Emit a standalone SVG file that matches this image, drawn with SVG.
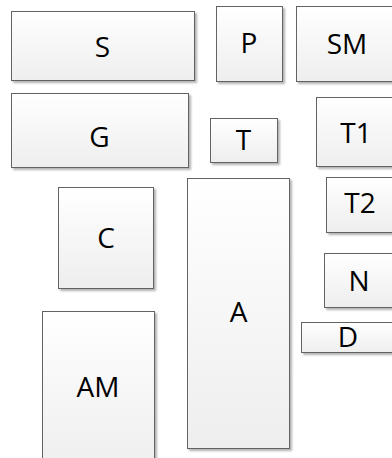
<svg xmlns="http://www.w3.org/2000/svg" width="392" height="458" viewBox="0 0 392 458">
<defs>
<linearGradient id="fill" x1="0" y1="0" x2="0" y2="1">
<stop offset="0" stop-color="#ffffff"/>
<stop offset="1" stop-color="#eeeeee"/>
</linearGradient>
<filter id="sh" x="-10%" y="-10%" width="130%" height="130%">
<feDropShadow dx="2" dy="2" stdDeviation="0.8" flood-color="#000" flood-opacity="0.3"/>
</filter>
</defs>
<style>
.box{fill:url(#fill);stroke:#636363;stroke-width:1;filter:url(#sh)}
.lbl{font-family:"Open Sans","Noto Sans",sans-serif;font-size:28px;fill:#000;text-anchor:middle}
</style>
<rect width="392" height="458" fill="#ffffff"/>
<g id="connectors"/>
<g id="S"><rect class="box" x="11.5" y="11.5" width="183" height="69"/><text class="lbl" x="102.5" y="57">S</text></g>
<g id="P"><rect class="box" x="216.5" y="6.5" width="66" height="75"/><text class="lbl" x="249" y="53">P</text></g>
<g id="SM"><rect class="box" x="296.5" y="6.5" width="102" height="75"/><text class="lbl" x="347" y="54">SM</text></g>
<g id="G"><rect class="box" x="11.5" y="93.5" width="177" height="74"/><text class="lbl" x="99.5" y="147">G</text></g>
<g id="T"><rect class="box" x="210.5" y="118.5" width="67" height="44"/><text class="lbl" x="243.5" y="150">T</text></g>
<g id="T1"><rect class="box" x="316.5" y="97.5" width="82" height="69"/><text class="lbl" x="356" y="143">T1</text></g>
<g id="A"><rect class="box" x="187.5" y="178.5" width="102" height="270"/><text class="lbl" x="238.5" y="322">A</text></g>
<g id="T2"><rect class="box" x="326.5" y="177.5" width="70" height="55"/><text class="lbl" x="360" y="213">T2</text></g>
<g id="C"><rect class="box" x="58.5" y="187.5" width="95" height="101"/><text class="lbl" x="106" y="248">C</text></g>
<g id="N"><rect class="box" x="324.5" y="253.5" width="72" height="54"/><text class="lbl" x="359" y="291">N</text></g>
<g id="D"><rect class="box" x="301.5" y="322.5" width="96" height="30"/><text class="lbl" x="348" y="347">D</text></g>
<g id="AM"><rect class="box" x="42.5" y="311.5" width="112" height="160"/><text class="lbl" x="98" y="397">AM</text></g>
</svg>
